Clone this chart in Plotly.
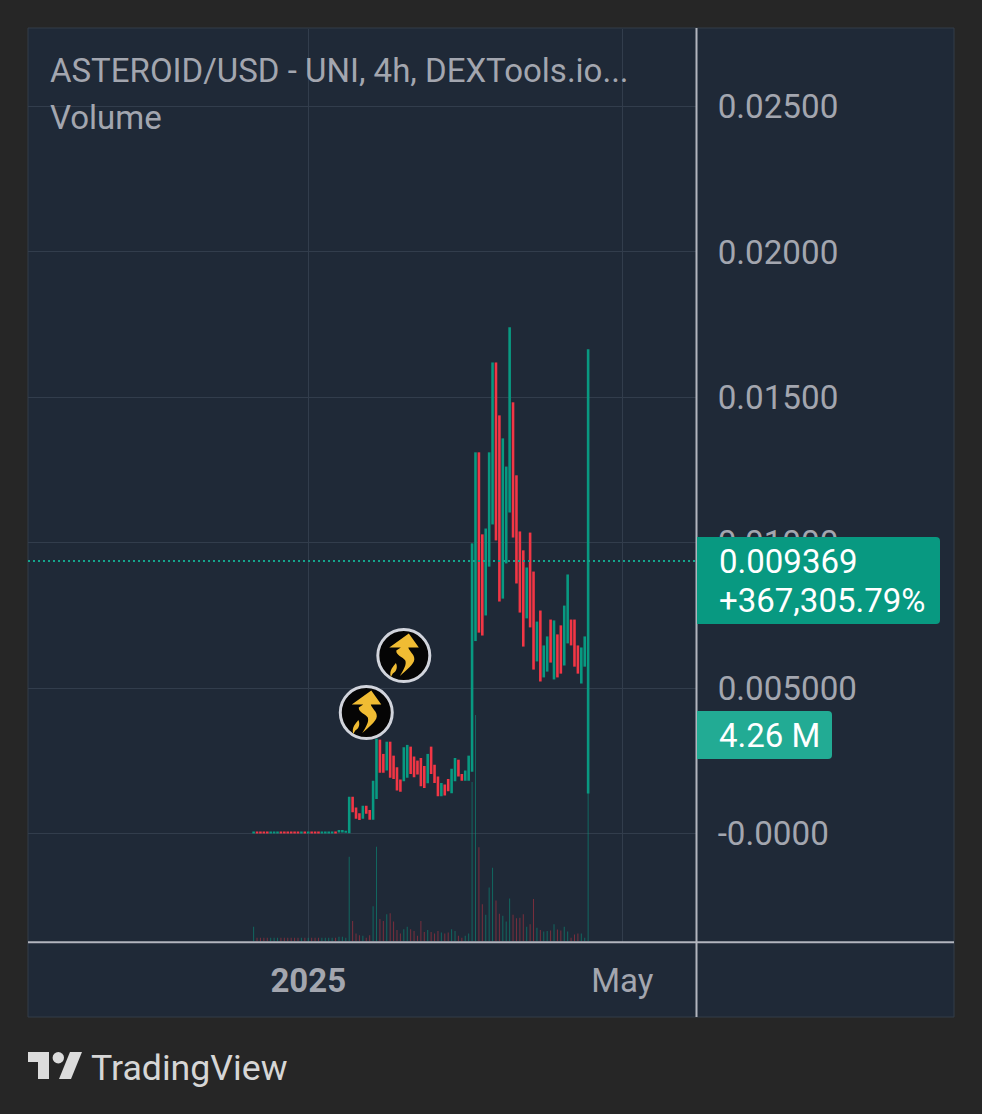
import base64
import plotly.graph_objects as go

# Candle values, oldest first. Direction follows close against open.
open_price = [
    0.00001, 0.00005, 0.00005, 0.00005, 0.00005, 0.00001, 0.00001, 0.00001, 0.00005, 0.00005,
    0.00005, 0.00005, 0.00005, 0.00005, 0.00001, 0.00005, 0.00001, 0.00005, 0.00005, 0.00005,
    0.00001, 0.00001, 0.00001, 0.00001, 0.00005, 0.00004, 0.00004, 0.00003,
    0.00001, 0.00127, 0.00090, 0.00070, 0.00051, 0.00096, 0.00081, 0.00048, 0.00119,
    0.00323, 0.00274, 0.00217, 0.00316, 0.00268, 0.00228, 0.00186, 0.00180, 0.00192,
    0.00299, 0.00265, 0.00251, 0.00260, 0.00232, 0.00173, 0.00299, 0.00237, 0.00196,
    0.00128, 0.00169, 0.00188, 0.00139, 0.00180, 0.00254, 0.00205, 0.00182, 0.00182,
    0.00213, 0.00662, 0.01311, 0.01029, 0.00750, 0.00918, 0.01063, 0.01620, 0.01438,
    0.00808, 0.00929, 0.01104, 0.01483, 0.01232, 0.01039, 0.00974, 0.00740, 0.01035,
    0.00901, 0.00592, 0.00767, 0.00537, 0.00557, 0.00736, 0.00530, 0.00685, 0.00716,
    0.00578, 0.00654, 0.00736, 0.00736, 0.00647, 0.00516, 0.00574, 0.00138,
]
close_price = [
    0.00005, 0.00001, 0.00001, 0.00001, 0.00001, 0.00005, 0.00005, 0.00005, 0.00001, 0.00001,
    0.00001, 0.00001, 0.00001, 0.00001, 0.00005, 0.00001, 0.00005, 0.00001, 0.00001, 0.00001,
    0.00005, 0.00005, 0.00005, 0.00005, 0.00001, 0.00012, 0.00012, 0.00010,
    0.00127, 0.00073, 0.00051, 0.00047, 0.00096, 0.00068, 0.00048, 0.00182, 0.00326,
    0.00209, 0.00209, 0.00316, 0.00192, 0.00188, 0.00148, 0.00144, 0.00297, 0.00305,
    0.00205, 0.00194, 0.00203, 0.00163, 0.00157, 0.00274, 0.00205, 0.00174, 0.00128,
    0.00174, 0.00131, 0.00146, 0.00223, 0.00260, 0.00196, 0.00182, 0.00217, 0.00268,
    0.00998, 0.01311, 0.00691, 0.00681, 0.01049, 0.01311, 0.01620, 0.01008, 0.00798,
    0.01359, 0.01262, 0.01741, 0.01018, 0.00860, 0.00760, 0.00643, 0.00915, 0.00709,
    0.00564, 0.00729, 0.00523, 0.00647, 0.00678, 0.00588, 0.00733, 0.00537, 0.00550,
    0.00784, 0.00891, 0.00647, 0.00574, 0.00550, 0.00640, 0.00678, 0.009369,
]
# Only the newest candle has a wick reaching past its body.
last_high = 0.01665

volume_m = [
    0.31, 0.08, 0.08, 0.08, 0.08, 0.08, 0.08, 0.08, 0.08, 0.08,
    0.08, 0.08, 0.08, 0.08, 0.08, 0.08, 0.08, 0.08, 0.08, 0.08,
    0.08, 0.08, 0.08, 0.08, 0.08, 0.10, 0.10, 0.08,
    1.77, 0.43, 0.17, 0.13, 0.12, 0.08, 0.13, 0.74, 1.98,
    0.47, 0.43, 0.57, 0.59, 0.42, 0.24, 0.17, 0.26, 0.31,
    0.26, 0.22, 0.12, 0.43, 0.20, 0.24, 0.20, 0.17, 0.22,
    0.19, 0.17, 0.19, 0.26, 0.22, 0.12, 0.08, 0.12, 0.17,
    3.33, 4.73, 1.97, 0.78, 0.56, 1.13, 1.54, 0.86, 0.58,
    0.54, 0.42, 0.90, 0.56, 0.49, 0.50, 0.57, 0.31, 0.36,
    0.89, 0.29, 0.24, 0.21, 0.22, 0.23, 0.36, 0.25, 0.23,
    0.31, 0.21, 0.08, 0.15, 0.17, 0.17, 0.08, 4.26,
]

price_ticks = [0.0, 0.005, 0.01, 0.015, 0.02, 0.025]
price_tick_labels = ["-0.0000", "0.005000", "0.01000", "0.01500", "0.02000", "0.02500"]
time_ticks = [16, 108]
time_tick_labels = ["<b>2025</b>", "May"]

# Event badges: bar position and price level.
badge_bar = [33, 44]
badge_price = [0.00416, 0.00612]

last_change = "+367,305.79%"
title_text = "ASTEROID/USD - UNI, 4h, DEXTools.io..."

UP = "#089981"
DOWN = "#f23645"
UP_VOL = "rgba(8,153,129,0.55)"
DOWN_VOL = "rgba(242,54,69,0.42)"
PANE = "#1f2937"
PAGE = "#262626"
GRID = "#323d4c"
TEXT = "#a3a6af"
AXIS_LINE = "#b2b5be"
FONT = "Roboto"

W, H = 982, 1114


def fx(px):
    return px / W


def fy(py):
    return 1 - py / H


bars = list(range(len(open_price)))
lows = [min(o, c) for o, c in zip(open_price, close_price)]
highs = [max(o, c) for o, c in zip(open_price, close_price)]
highs[-1] = last_high
rising = [c >= o for o, c in zip(open_price, close_price)]
volumes = [v * 1e6 for v in volume_m]

fig = go.Figure()

fig.add_trace(go.Bar(
    x=bars, y=volumes, yaxis="y", width=0.3,
    marker=dict(color=[UP_VOL if r else DOWN_VOL for r in rising], line_width=0),
    showlegend=False, hoverinfo="skip",
))
fig.add_trace(go.Bar(
    x=bars, y=[h - l for h, l in zip(highs, lows)], base=lows, yaxis="y2", width=0.76,
    marker=dict(color=[UP if r else DOWN for r in rising], line_width=0),
    showlegend=False, hoverinfo="skip",
))
fig.add_trace(go.Scatter(
    x=badge_bar, y=badge_price, yaxis="y2", mode="markers",
    marker=dict(size=52, color="#050505", line=dict(color="#d1d4dc", width=3)),
    showlegend=False, hoverinfo="skip",
))

bolt_svg = (
    '<svg xmlns="http://www.w3.org/2000/svg" width="54" height="54" viewBox="-27 -27 54 54">'
    '<path fill="#f0bc33" d="M5,-22 L15,-8 L4.5,-8 C5.5,-4 11,-1 10.5,4 '
    'C10,9 3,14 -4,20.5 C0,14 3,9 1.5,5 C-1,1 -8,0 -7.5,-5 L-3,-8 L-14.5,-8 Z"/>'
    '<path fill="#f0bc33" d="M-13,21.5 C-15,14 -10,11 -8,7.5 C-6,11 -7,16 -11,18 Z"/>'
    '</svg>'
)
bolt_uri = "data:image/svg+xml;base64," + base64.b64encode(bolt_svg.encode()).decode()

images = [
    dict(source=bolt_uri, xref="x", yref="y2", x=bx, y=by, sizex=54 / 3.413, sizey=0.001857,
         xanchor="center", yanchor="middle", sizing="stretch", layer="above")
    for bx, by in zip(badge_bar, badge_price)
]


def rounded_tag(x0, y0, x1, y1, r, color):
    """Price-scale tag with square left edge and rounded right corners."""
    a, b, c, d = fx(x0), fy(y0), fx(x1), fy(y1)
    rx, ry = r / W, r / H
    return dict(
        type="path", xref="paper", yref="paper", layer="above",
        path=(f"M{a},{b} L{c - rx},{b} Q{c},{b} {c},{b - ry} L{c},{d + ry} "
              f"Q{c},{d} {c - rx},{d} L{a},{d} Z"),
        fillcolor=color, line_width=0,
    )


def poly(points, color):
    path = "M" + " L".join(f"{fx(x)},{fy(y)}" for x, y in points) + " Z"
    return dict(type="path", xref="paper", yref="paper", path=path,
                fillcolor=color, line_width=0, layer="above")


LOGO = "#dcdcdc"
shapes = [
    # Chart frame behind the panes
    dict(type="rect", xref="paper", yref="paper", layer="below",
         x0=fx(28), x1=fx(954), y0=fy(1017), y1=fy(28),
         fillcolor=PANE, line=dict(color="#323c49", width=1)),
    # Last-price line
    dict(type="line", xref="paper", yref="y2", x0=fx(28), x1=fx(696),
         y0=close_price[-1], y1=close_price[-1], layer="above",
         line=dict(color="#14a58d", width=2, dash="2px,3px")),
    # Separators between the panes and the scales
    dict(type="line", xref="paper", yref="paper", x0=fx(696.5), x1=fx(696.5),
         y0=fy(1017), y1=fy(28), line=dict(color=AXIS_LINE, width=2), layer="above"),
    dict(type="line", xref="paper", yref="paper", x0=fx(28), x1=fx(954),
         y0=fy(942.2), y1=fy(942.2), line=dict(color=AXIS_LINE, width=2), layer="above"),
    rounded_tag(697, 537, 940, 624, 4, "#089981"),
    rounded_tag(697, 711, 832, 759, 4, "#22ab94"),
    # Footer logo
    poly([(28, 1052), (49, 1052), (49, 1079), (38, 1079), (38, 1062), (28, 1062)], LOGO),
    dict(type="circle", xref="paper", yref="paper", layer="above",
         x0=fx(52.6), x1=fx(64), y0=fy(1063.4), y1=fy(1052),
         fillcolor=LOGO, line_width=0),
    poly([(70, 1052), (82, 1052), (71, 1079), (59, 1079)], LOGO),
]


def label(text, x, y, size, color, anchor="left"):
    return dict(text=text, xref="paper", yref="paper", x=fx(x), y=fy(y), showarrow=False,
                xanchor=anchor, yanchor="middle", align=anchor,
                font=dict(family=FONT, size=size, color=color))


annotations = [
    label(title_text, 48, 70, 33, TEXT),
    label("Volume", 48, 118, 33, TEXT),
    label(f"{close_price[-1]:.6f}", 717, 561, 33, "#ffffff"),
    label(last_change, 717, 600, 33, "#ffffff"),
    label(f"{volume_m[-1]:.2f} M", 717, 735.5, 33, "#ffffff"),
    label("TradingView", 89, 1068, 35.7, "#d6d6d6"),
]

fig.update_layout(
    width=W, height=H, autosize=False,
    margin=dict(l=0, r=0, t=0, b=0),
    paper_bgcolor=PAGE, plot_bgcolor="rgba(0,0,0,0)",
    barmode="overlay", showlegend=False,
    font=dict(family=FONT),
    shapes=shapes, annotations=annotations, images=images,
    xaxis=dict(
        domain=[fx(28), fx(696)], range=[-66.1, 129.6],
        tickmode="array", tickvals=time_ticks, ticktext=time_tick_labels,
        ticks="outside", ticklen=10, tickcolor="rgba(0,0,0,0)",
        tickfont=dict(family=FONT, size=33, color=TEXT),
        showgrid=True, gridcolor=GRID, gridwidth=1, zeroline=False, showline=False,
        anchor="y",
    ),
    yaxis=dict(
        domain=[fy(941.6), fy(28.6)], range=[0, 19.06e6], visible=False, fixedrange=True,
    ),
    yaxis2=dict(
        domain=[fy(941.6), fy(28.6)], range=[-0.003714, 0.02768],
        overlaying="y", side="right", anchor="x",
        tickmode="array", tickvals=price_ticks, ticktext=price_tick_labels,
        ticks="outside", ticklen=14, tickcolor="rgba(0,0,0,0)",
        tickfont=dict(family=FONT, size=33.2, color=TEXT),
        showgrid=True, gridcolor=GRID, gridwidth=1, zeroline=False, showline=False,
    ),
)

fig.write_html("out.html", config=dict(displayModeBar=False))
